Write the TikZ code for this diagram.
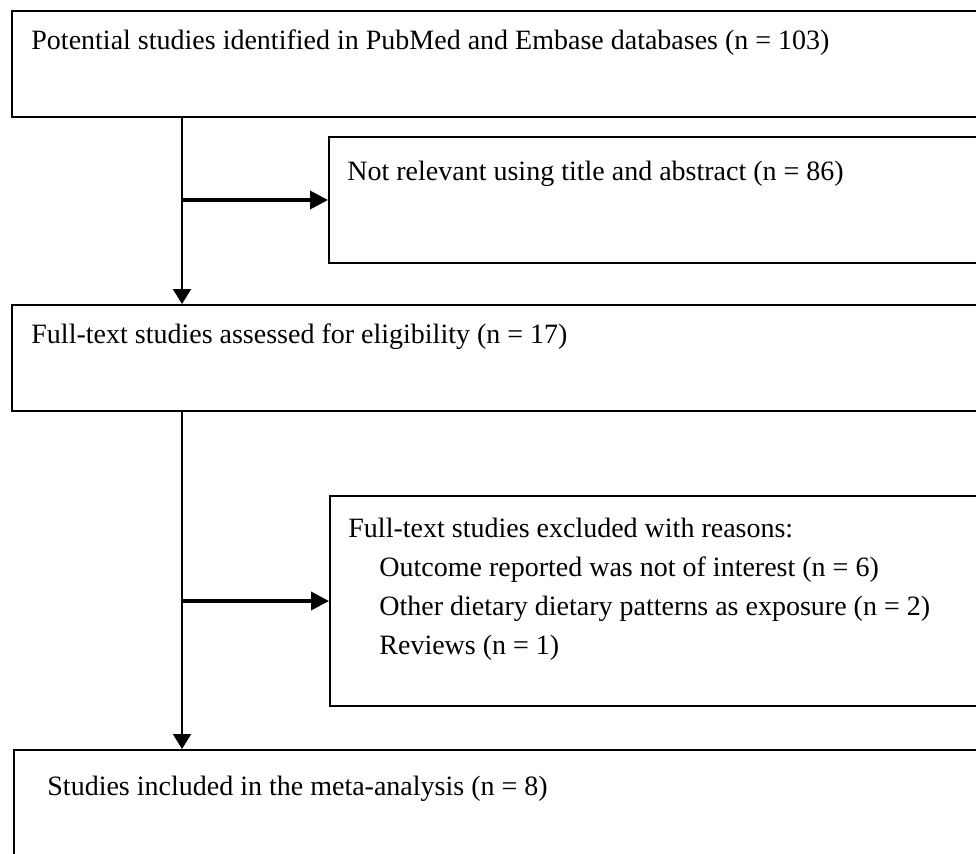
\documentclass[tikz,border=0pt]{standalone}
\usepackage{fontspec}
\setmainfont{Liberation Serif}
\usetikzlibrary{arrows.meta}
\usetikzlibrary{positioning}

\begin{document}
\begin{tikzpicture}[
    x=0.5pt, y=-0.5pt,
    box/.style={draw, line width=1pt, rectangle, anchor=north west,
      minimum width=500pt, inner sep=0pt},
    lbl/.style={anchor=base west, inner sep=0pt,
      font=\fontsize{14pt}{19.5pt}\selectfont},
    down/.style={line width=1pt, -{Triangle[length=7.5pt,width=9pt]}},
    side/.style={line width=1.8pt, -{Triangle[length=9pt,width=9pt]}},
]
  \useasboundingbox (0,0) rectangle (976,853);
  \clip (0,0) rectangle (976,853);

  \node (found) [box, minimum height=53pt] at (11,10) {};
  \node (notrel) [box, minimum height=63pt] at (328,136) {};
  \node (full) [box, minimum height=53pt] at (11,304) {};
  \node (excl) [box, minimum height=105pt] at (329,495) {};
  \node (incl) [box, minimum height=60pt] at (13,749) {};

  \node (tfound) [lbl] at ([xshift=10pt,yshift=-19.5pt]found.north west)
    {Potential studies identified in PubMed and Embase databases (n = 103)};
  \node (tnotrel) [lbl] at ([xshift=9.5pt,yshift=-22pt]notrel.north west)
    {Not relevant using title and abstract (n = 86)};
  \node (tfull) [lbl] at ([xshift=10pt,yshift=-19.5pt]full.north west)
    {Full-text studies assessed for eligibility (n = 17)};
  \node (texcl) [lbl] at ([xshift=9.5pt,yshift=-21pt]excl.north west)
    {Full-text studies excluded with reasons:};
  \foreach \txt [count=\i] in {Outcome reported was not of interest (n = 6),
      Other dietary dietary patterns as exposure (n = 2),
      Reviews (n = 1)} {
    \node (why\i) [lbl] at ([xshift=25pt,yshift={-21pt-19.5pt*\i}]excl.north west) {\txt};
  }
  \node (tincl) [lbl] at ([xshift=17pt,yshift=-23pt]incl.north west)
    {Studies included in the meta-analysis (n = 8)};

  \coordinate (t1) at ([xshift=85.5pt]found.south west);
  \coordinate (t2) at ([xshift=85.5pt]full.south west);
  \draw[down] (t1) -- (t1 |- full.north);
  \draw[side] (t1 |- notrel.west) -- (notrel.west);
  \draw[down] (t2) -- (t2 |- incl.north);
  \draw[side] (t2 |- excl.west) -- (excl.west);
\end{tikzpicture}
\end{document}
